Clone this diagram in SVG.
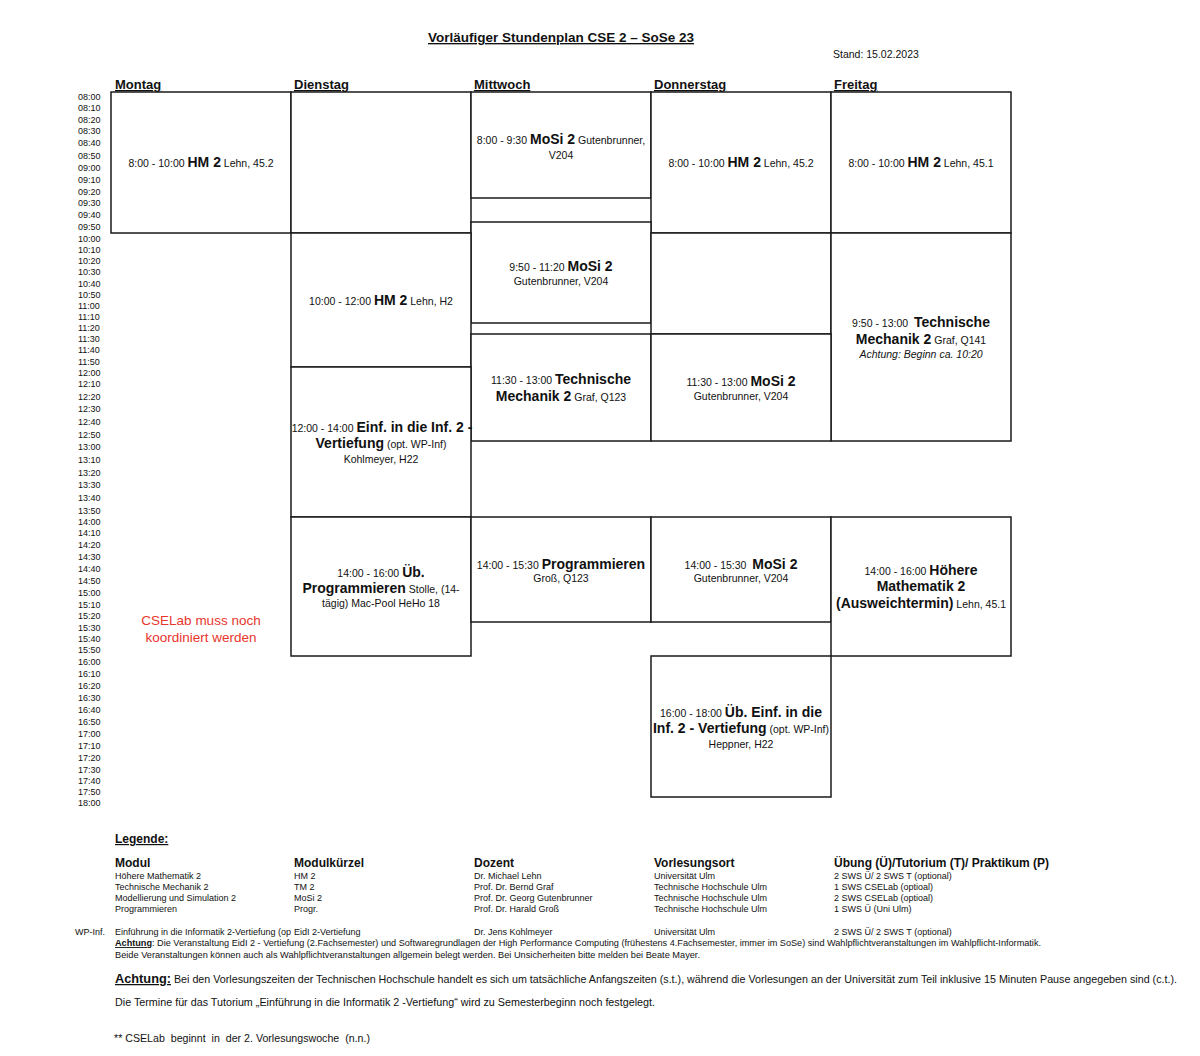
<svg xmlns="http://www.w3.org/2000/svg" width="1200" height="1056" viewBox="0 0 1200 1056">
<style>
text{font-family:"Liberation Sans",Arial,sans-serif;fill:#111}
.t{font-size:9px}
.day{font-size:13px;font-weight:bold;text-decoration:underline}
.box{fill:#fff;stroke:#1a1a1a;stroke-width:1.5}
.c{text-anchor:middle;font-size:10.5px}
.b{font-weight:bold;font-size:14px}
.lh{font-size:12px;font-weight:bold}
.lr{font-size:9px}
.red{fill:#e8352b;font-size:13.5px;text-anchor:middle}
</style>
<defs>
<clipPath id="clipWP"><rect x="0" y="900" width="291" height="50"/></clipPath>
</defs>
<rect width="1200" height="1056" fill="#fff"/>
<text x="561" y="42" text-anchor="middle" style="font-size:13.5px;font-weight:bold;text-decoration:underline">Vorläufiger Stundenplan CSE 2 – SoSe 23</text>
<text x="833" y="58" style="font-size:10.5px">Stand: 15.02.2023</text>
<g id="days">
<text class="day" x="115" y="89">Montag</text>
<text class="day" x="294" y="89">Dienstag</text>
<text class="day" x="474" y="89">Mittwoch</text>
<text class="day" x="654" y="89">Donnerstag</text>
<text class="day" x="834" y="89">Freitag</text>
</g>
<g id="times" class="t">
<text x="78" y="100">08:00</text><text x="78" y="111">08:10</text><text x="78" y="123">08:20</text><text x="78" y="134">08:30</text><text x="78" y="146">08:40</text><text x="78" y="159">08:50</text><text x="78" y="171">09:00</text><text x="78" y="183">09:10</text><text x="78" y="195">09:20</text><text x="78" y="206">09:30</text><text x="78" y="218">09:40</text><text x="78" y="230">09:50</text>
<text x="78" y="242">10:00</text><text x="78" y="253">10:10</text><text x="78" y="264">10:20</text><text x="78" y="275">10:30</text><text x="78" y="287">10:40</text><text x="78" y="298">10:50</text><text x="78" y="309">11:00</text><text x="78" y="320">11:10</text><text x="78" y="331">11:20</text><text x="78" y="342">11:30</text><text x="78" y="353">11:40</text><text x="78" y="365">11:50</text>
<text x="78" y="376">12:00</text><text x="78" y="387">12:10</text><text x="78" y="400">12:20</text><text x="78" y="412">12:30</text><text x="78" y="425">12:40</text><text x="78" y="438">12:50</text><text x="78" y="450">13:00</text><text x="78" y="463">13:10</text><text x="78" y="476">13:20</text><text x="78" y="488">13:30</text><text x="78" y="501">13:40</text><text x="78" y="514">13:50</text>
<text x="78" y="525">14:00</text><text x="78" y="536">14:10</text><text x="78" y="548">14:20</text><text x="78" y="560">14:30</text><text x="78" y="572">14:40</text><text x="78" y="584">14:50</text><text x="78" y="596">15:00</text><text x="78" y="608">15:10</text><text x="78" y="619">15:20</text><text x="78" y="631">15:30</text><text x="78" y="642">15:40</text><text x="78" y="653">15:50</text>
<text x="78" y="665">16:00</text><text x="78" y="677">16:10</text><text x="78" y="689">16:20</text><text x="78" y="701">16:30</text><text x="78" y="713">16:40</text><text x="78" y="725">16:50</text><text x="78" y="737">17:00</text><text x="78" y="749">17:10</text><text x="78" y="761">17:20</text><text x="78" y="773">17:30</text><text x="78" y="784">17:40</text><text x="78" y="795">17:50</text><text x="78" y="806">18:00</text>
</g>
<g id="connectors"></g>
<g id="mon-hm2"><rect class="box" x="111" y="92" width="180" height="141"/>
<text class="c" x="201" y="167">8:00 - 10:00 <tspan class="b">HM 2</tspan> Lehn, 45.2</text></g>
<g id="die-empty"><rect class="box" x="291" y="92" width="180" height="141"/></g>
<g id="mit-mosi1"><rect class="box" x="471" y="92" width="180" height="106"/>
<text class="c" x="561" y="144">8:00 - 9:30 <tspan class="b">MoSi 2</tspan> Gutenbrunner,</text>
<text class="c" x="561" y="159">V204</text></g>
<g id="don-hm2"><rect class="box" x="651" y="92" width="180" height="141"/>
<text class="c" x="741" y="167">8:00 - 10:00 <tspan class="b">HM 2</tspan> Lehn, 45.2</text></g>
<g id="fre-hm2"><rect class="box" x="831" y="92" width="180" height="141"/>
<text class="c" x="921" y="167">8:00 - 10:00 <tspan class="b">HM 2</tspan> Lehn, 45.1</text></g>
<g id="mit-mosi2"><rect class="box" x="471" y="222" width="180" height="101"/>
<text class="c" x="561" y="271">9:50 - 11:20 <tspan class="b">MoSi 2</tspan></text>
<text class="c" x="561" y="285">Gutenbrunner, V204</text></g>
<g id="die-hm2"><rect class="box" x="291" y="233" width="180" height="134"/>
<text class="c" x="381" y="305">10:00 - 12:00 <tspan class="b">HM 2</tspan> Lehn, H2</text></g>
<g id="don-empty"><rect class="box" x="651" y="233" width="180" height="101"/></g>
<g id="fre-tm2"><rect class="box" x="831" y="233" width="180" height="208"/>
<text class="c" x="921" y="327" xml:space="preserve">9:50 - 13:00  <tspan class="b">Technische</tspan></text>
<text class="c" x="921" y="344"><tspan class="b">Mechanik 2</tspan> Graf, Q141</text>
<text class="c" x="921" y="358" font-style="italic">Achtung: Beginn ca. 10:20</text></g>
<g id="mit-tm2"><rect class="box" x="471" y="334" width="180" height="107"/>
<text class="c" x="561" y="384">11:30 - 13:00 <tspan class="b">Technische</tspan></text>
<text class="c" x="561" y="401"><tspan class="b">Mechanik 2</tspan> Graf, Q123</text></g>
<g id="don-mosi2"><rect class="box" x="651" y="334" width="180" height="107"/>
<text class="c" x="741" y="386">11:30 - 13:00 <tspan class="b">MoSi 2</tspan></text>
<text class="c" x="741" y="400">Gutenbrunner, V204</text></g>
<g id="die-einf"><rect class="box" x="291" y="367" width="180" height="150"/>
<text class="c" x="382" y="432">12:00 - 14:00 <tspan class="b">Einf. in die Inf. 2 -</tspan></text>
<text class="c" x="381" y="448"><tspan class="b">Vertiefung</tspan> (opt. WP-Inf)</text>
<text class="c" x="381" y="463">Kohlmeyer, H22</text></g>
<g id="die-ueb-prog"><rect class="box" x="291" y="517" width="180" height="139"/>
<text class="c" x="381" y="577">14:00 - 16:00 <tspan class="b">Üb.</tspan></text>
<text class="c" x="381" y="593"><tspan class="b">Programmieren</tspan> Stolle, (14-</text>
<text class="c" x="381" y="607">tägig) Mac-Pool HeHo 18</text></g>
<g id="mit-prog"><rect class="box" x="471" y="517" width="180" height="105"/>
<text class="c" x="561" y="569">14:00 - 15:30 <tspan class="b">Programmieren</tspan></text>
<text class="c" x="561" y="582">Groß, Q123</text></g>
<g id="don-mosi3"><rect class="box" x="651" y="517" width="180" height="105"/>
<text class="c" x="741" y="569" xml:space="preserve">14:00 - 15:30  <tspan class="b">MoSi 2</tspan></text>
<text class="c" x="741" y="582">Gutenbrunner, V204</text></g>
<g id="fre-hm2b"><rect class="box" x="831" y="517" width="180" height="139"/>
<text class="c" x="921" y="575">14:00 - 16:00 <tspan class="b">Höhere</tspan></text>
<text class="c" x="921" y="591"><tspan class="b">Mathematik 2</tspan></text>
<text class="c" x="921" y="608"><tspan class="b">(Ausweichtermin)</tspan> Lehn, 45.1</text></g>
<g id="don-ueb-einf"><rect class="box" x="651" y="656" width="180" height="141"/>
<text class="c" x="741" y="717">16:00 - 18:00 <tspan class="b">Üb. Einf. in die</tspan></text>
<text class="c" x="741" y="733"><tspan class="b">Inf. 2 - Vertiefung</tspan> (opt. WP-Inf)</text>
<text class="c" x="741" y="748">Heppner, H22</text></g>
<g id="cselab-note">
<text class="red" x="201" y="625">CSELab muss noch</text>
<text class="red" x="201" y="642">koordiniert werden</text>
</g>
<g id="legend">
<text x="115" y="843" style="font-size:12px;font-weight:bold;text-decoration:underline">Legende:</text>
<text class="lh" x="115" y="867">Modul</text>
<text class="lh" x="294" y="867">Modulkürzel</text>
<text class="lh" x="474" y="867">Dozent</text>
<text class="lh" x="654" y="867">Vorlesungsort</text>
<text class="lh" x="834" y="867">Übung (Ü)/Tutorium (T)/ Praktikum (P)</text>
<g class="lr">
<text x="115" y="879">Höhere Mathematik 2</text><text x="115" y="890">Technische Mechanik 2</text><text x="115" y="901">Modellierung und Simulation 2</text><text x="115" y="912">Programmieren</text>
<text x="294" y="879">HM 2</text><text x="294" y="890">TM 2</text><text x="294" y="901">MoSi 2</text><text x="294" y="912">Progr.</text>
<text x="474" y="879">Dr. Michael Lehn</text><text x="474" y="890">Prof. Dr. Bernd Graf</text><text x="474" y="901">Prof. Dr. Georg Gutenbrunner</text><text x="474" y="912">Prof. Dr. Harald Groß</text>
<text x="654" y="879">Universität Ulm</text><text x="654" y="890">Technische Hochschule Ulm</text><text x="654" y="901">Technische Hochschule Ulm</text><text x="654" y="912">Technische Hochschule Ulm</text>
<text x="834" y="879">2 SWS Ü/ 2 SWS T (optional)</text><text x="834" y="890">1 SWS CSELab (optioal)</text><text x="834" y="901">2 SWS CSELab (optioal)</text><text x="834" y="912">1 SWS Ü (Uni Ulm)</text>
<text x="75" y="935">WP-Inf.</text>
<text x="115" y="935" clip-path="url(#clipWP)">Einführung in die Informatik 2-Vertiefung (opt.)</text>
<text x="294" y="935">EidI 2-Vertiefung</text>
<text x="474" y="935">Dr. Jens Kohlmeyer</text>
<text x="654" y="935">Universität Ulm</text>
<text x="834" y="935">2 SWS Ü/ 2 SWS T (optional)</text>
<text x="115" y="946" textLength="926" lengthAdjust="spacingAndGlyphs"><tspan font-weight="bold" text-decoration="underline">Achtung</tspan>: Die Veranstaltung EidI 2 - Vertiefung (2.Fachsemester) und Softwaregrundlagen der High Performance Computing (frühestens 4.Fachsemester, immer im SoSe) sind Wahlpflichtveranstaltungen im Wahlpflicht-Informatik.</text>
<text x="115" y="958" textLength="585" lengthAdjust="spacingAndGlyphs">Beide Veranstaltungen können auch als Wahlpflichtveranstaltungen allgemein belegt werden. Bei Unsicherheiten bitte melden bei Beate Mayer.</text>
</g>
<text x="115" y="983" style="font-size:10.5px" textLength="1062" lengthAdjust="spacingAndGlyphs"><tspan style="font-size:12.5px;font-weight:bold;text-decoration:underline">Achtung:</tspan> Bei den Vorlesungszeiten der Technischen Hochschule handelt es sich um tatsächliche Anfangszeiten (s.t.), während die Vorlesungen an der Universität zum Teil inklusive 15 Minuten Pause angegeben sind (c.t.).</text>
<text x="115" y="1006" style="font-size:10px" textLength="540" lengthAdjust="spacingAndGlyphs">Die Termine für das Tutorium „Einführung in die Informatik 2 -Vertiefung“ wird zu Semesterbeginn noch festgelegt.</text>
<text x="114" y="1042" style="font-size:10.5px" textLength="256" lengthAdjust="spacingAndGlyphs" xml:space="preserve">** CSELab  beginnt  in  der 2. Vorlesungswoche  (n.n.)</text>
</g>
</svg>
